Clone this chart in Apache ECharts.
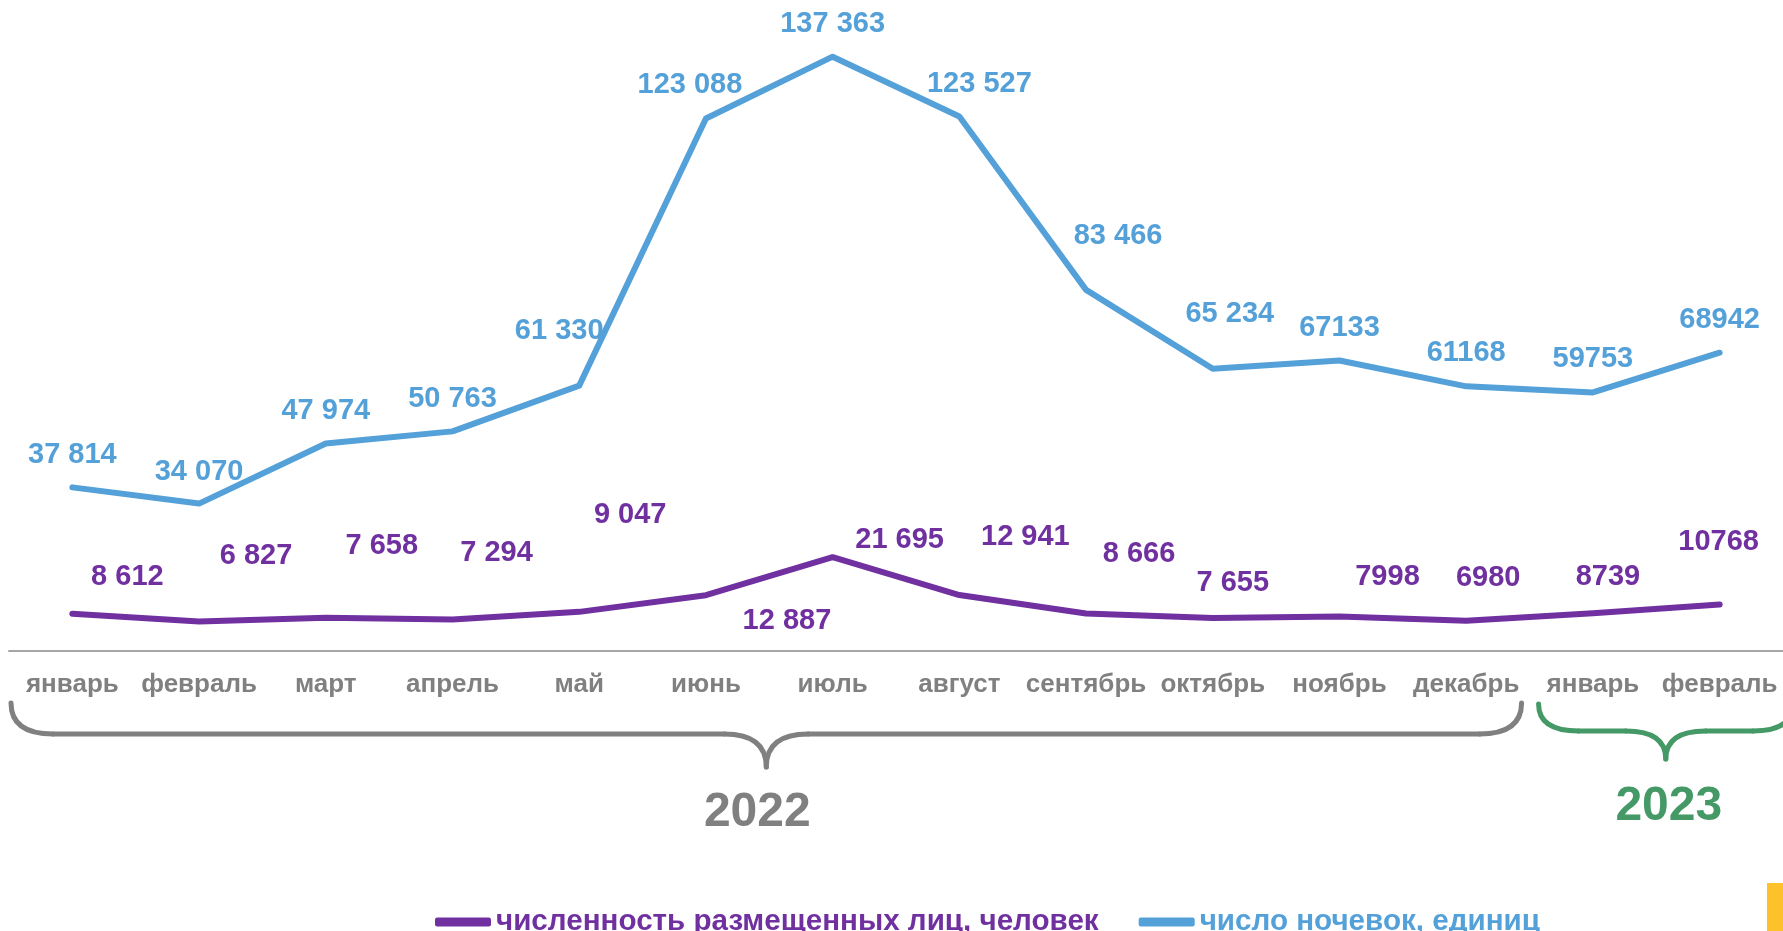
<!DOCTYPE html>
<html><head><meta charset="utf-8">
<script src="https://cdn.jsdelivr.net/npm/echarts@6/dist/echarts.min.js"></script>
<style>html,body{margin:0;padding:0;background:#fff;overflow:hidden}#c{width:1783px;height:931px;}</style>
</head><body><div id="c"></div>
<script>
// ---- data ----
const months = ['январь','февраль','март','апрель','май','июнь','июль','август','сентябрь','октябрь','ноябрь','декабрь','январь','февраль'];
const guests = [8612,6827,7658,7294,9047,12887,21695,12941,8666,7655,7998,6980,8739,10768];
const nights = [37814,34070,47974,50763,61330,123088,137363,123527,83466,65234,67133,61168,59753,68942];
const guestsText = ['8 612','6 827','7 658','7 294','9 047','12 887','21 695','12 941','8 666','7 655','7998','6980','8739','10768'];
const nightsText = ['37 814','34 070','47 974','50 763','61 330','123 088','137 363','123 527','83 466','65 234','67133','61168','59753','68942'];
const years = ['2022','2023'];
const seriesNames = ['численность размещенных лиц, человек','число ночевок, единиц'];

// ---- label placement (styling only) ----
const guestsOffset = [[55,-37],[57,-65],[56,-72],[44,-66],[51,-97],[81,26],[67,-17],[66,-58],[53,-60],[20,-35],[48,-39],[22,-43],[15,-36],[-1,-62]];
const nightsOffset = [[0,-32],[0,-32],[0,-32],[0,-32],[-20,-55],[-16,-33],[0,-33],[20,-33],[32,-54],[17,-55],[0,-33],[0,-33],[0,-33],[0,-33]];

const PURPLE = '#7030a0', BLUE = '#54a0d8', GRAY = '#808080', GREEN = '#449966';
const FONT = '"Liberation Sans", Arial, sans-serif';

function mkData(vals, texts, offs, color) {
  return vals.map((v, i) => ({
    value: v,
    label: { show: true, position: 'inside', offset: offs[i], formatter: texts[i],
      color: color, fontFamily: FONT, fontWeight: 'bold', fontSize: 29 }
  }));
}

const chart = echarts.init(document.getElementById('c'), null, { renderer: 'canvas' });
chart.setOption({
  animation: false,
  backgroundColor: '#fff',
  grid: { left: 9, right: -3, top: 2, bottom: 280, containLabel: false },
  legend: {
    data: seriesNames, left: 430, top: 902, itemWidth: 56, itemHeight: 9, itemGap: 40,
    icon: 'roundRect',
    textStyle: { fontFamily: FONT, fontWeight: 'bold', fontSize: 29.6, color: 'inherit' }
  },
  xAxis: {
    type: 'category', data: months, boundaryGap: true,
    axisLine: { lineStyle: { color: '#a6a6a6', width: 2 } },
    axisTick: { show: false },
    axisLabel: { interval: 0, margin: 21, color: GRAY, fontFamily: FONT, fontWeight: 'bold', fontSize: 26 }
  },
  yAxis: { type: 'value', min: 0, max: 150000, show: false, splitLine: { show: false } },
  series: [
    { name: seriesNames[0], type: 'line', data: mkData(guests, guestsText, guestsOffset, PURPLE),
      color: PURPLE, symbol: 'circle', symbolSize: 0.1, showSymbol: true,
      lineStyle: { width: 6, color: PURPLE, cap: 'round', join: 'round' }, z: 3 },
    { name: seriesNames[1], type: 'line', data: mkData(nights, nightsText, nightsOffset, BLUE),
      color: BLUE, symbol: 'circle', symbolSize: 0.1, showSymbol: true,
      lineStyle: { width: 6, color: BLUE, cap: 'round', join: 'round' }, z: 2 }
  ]
});

// ---- braces anchored to the category axis ----
function cx(i) { return chart.convertToPixel({ xAxisIndex: 0 }, i); }
const bw = cx(1) - cx(0);
function brace(x0, x1, yTop, yBot, yTip, color, rx) {
  const xc = (x0 + x1) / 2;
  const st = { fill: null, stroke: color, lineWidth: 5, lineCap: 'round' };
  const q = (a, b, c, d, e, f) => ({ type: 'bezierCurve', silent: true, shape: { x1: a, y1: b, cpx1: c, cpy1: d, x2: e, y2: f }, style: st });
  const l = (a, b, c, d) => ({ type: 'line', silent: true, shape: { x1: a, y1: b, x2: c, y2: d }, style: st });
  return [
    q(x0, yTop, x0, yBot, x0 + rx, yBot),
    l(x0 + rx, yBot, xc - rx, yBot),
    q(xc - rx, yBot, xc, yBot, xc, yTip),
    q(xc, yTip, xc, yBot, xc + rx, yBot),
    l(xc + rx, yBot, x1 - rx, yBot),
    q(x1 - rx, yBot, x1, yBot, x1, yTop)
  ];
}
const g0 = cx(0) - bw / 2 + 2, g1 = cx(11) + bw / 2 - 8;
const h0 = cx(12) - bw / 2 + 9, h1 = cx(13) + bw / 2 + 10;
chart.setOption({
  graphic: [].concat(
    brace(g0, g1, 703, 734, 767, GRAY, 42),
    brace(h0, h1, 704, 731, 759, GREEN, 40),
    [
      { type: 'text', x: (g0 + g1) / 2 - 9, y: 813, style: { text: years[0], fill: GRAY, font: 'bold 48px ' + FONT, align: 'center', verticalAlign: 'middle' } },
      { type: 'text', x: (h0 + h1) / 2 + 3, y: 807, style: { text: years[1], fill: GREEN, font: 'bold 48px ' + FONT, align: 'center', verticalAlign: 'middle' } },
      { type: 'rect', shape: { x: 1767, y: 883, width: 16, height: 48 }, style: { fill: '#fdc12b' } }
    ]
  )
});
</script></body></html>
